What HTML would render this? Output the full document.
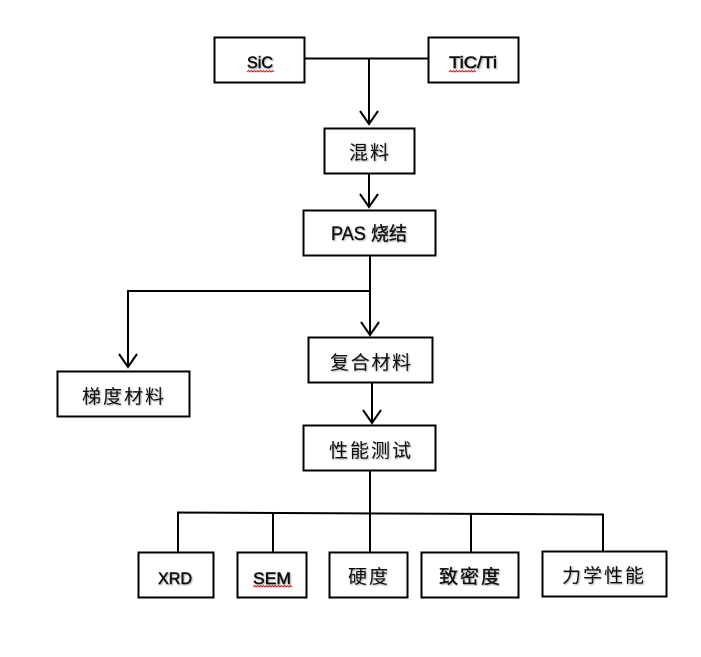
<!DOCTYPE html>
<html>
<head>
<meta charset="utf-8">
<style>
html,body{margin:0;padding:0;background:#fff;width:701px;height:657px;overflow:hidden}
svg{display:block}
text{fill:#111;filter:url(#soft)}
.c{font-family:"Liberation Sans","Noto Sans CJK SC",sans-serif;font-size:19px}
.l{font-family:"Liberation Sans","Noto Sans CJK SC",sans-serif;font-size:17px;stroke:#111;stroke-width:.5px}
</style>
</head>
<body>
<svg width="701" height="657" viewBox="0 0 701 657" xmlns="http://www.w3.org/2000/svg">
<defs>
<filter id="soft" x="-10%" y="-20%" width="125%" height="145%">
<feGaussianBlur in="SourceAlpha" stdDeviation="0.9" result="b"/>
<feOffset in="b" dx="1" dy="1" result="o"/>
<feComponentTransfer in="o" result="s"><feFuncA type="linear" slope="0.35"/></feComponentTransfer>
<feMerge><feMergeNode in="s"/><feMergeNode in="SourceGraphic"/></feMerge>
</filter>
</defs>
<g fill="#fff" stroke="#000" stroke-width="2">
<rect x="214.500" y="37.500" width="90" height="45"/>
<rect x="428.500" y="37.500" width="90" height="45"/>
<rect x="324.500" y="128.500" width="90" height="45"/>
<rect x="303.500" y="210.500" width="132" height="45"/>
<rect x="308.500" y="337.500" width="124" height="45"/>
<rect x="57.500" y="371.500" width="132" height="45"/>
<rect x="303.500" y="425.500" width="132" height="45"/>
<rect x="138.500" y="552.500" width="75" height="45"/>
<rect x="237.500" y="552.500" width="69" height="45"/>
<rect x="329.500" y="552.500" width="78" height="45"/>
<rect x="421.500" y="552.500" width="97" height="45"/>
<rect x="542.500" y="551.500" width="124" height="45"/>
</g>
<g fill="none" stroke="#000" stroke-width="2">
<path d="M305 58.500H428M369 59V124M360 111L369 124L378 111"/>
<path d="M369 174V207M360 194L369 207L378 194"/>
<path d="M370 256V335M361 322L370 335L379 322"/>
<path d="M370 291H128V367M119 354L128 367L137 354"/>
<path d="M372 383V423M363 410L372 423L381 410"/>
<path d="M370 471V552"/>
<path d="M178 552L178 512.500L603 514.500V551"/>
<path d="M273 513V552M471 514V552"/>
</g>
<g fill="none" stroke="#d22" stroke-width="1">
<path d="M247 72l1.500-1.500 1.500 1.500 1.500-1.500 1.500 1.500 1.500-1.500 1.500 1.500 1.500-1.500 1.500 1.500 1.500-1.500 1.500 1.500 1.500-1.500 1.500 1.500 1.500-1.500 1.500 1.500 1.500-1.500 1.500 1.500 1.500-1.500 1.500 1.500"/>
<path d="M449 72l1.500-1.500 1.500 1.500 1.500-1.500 1.500 1.500 1.500-1.500 1.500 1.500 1.500-1.500 1.500 1.500 1.500-1.500 1.500 1.500 1.500-1.500 1.500 1.500 1.500-1.500 1.500 1.500 1.500-1.500 1.500 1.500 1.500-1.500 1.500 1.500"/>
<path d="M253 587l1.500-1.500 1.500 1.500 1.500-1.500 1.500 1.500 1.500-1.500 1.500 1.500 1.500-1.500 1.500 1.500 1.500-1.500 1.500 1.500 1.500-1.500 1.500 1.500 1.500-1.500 1.500 1.500 1.500-1.500 1.500 1.500 1.500-1.500 1.500 1.500 1.500-1.500 1.500 1.500 1.500-1.500 1.500 1.500 1.500-1.500 1.500 1.500 1.500-1.500 1.500 1.500"/>
</g>
<text class="l" x="247" y="68" textLength="26" lengthAdjust="spacingAndGlyphs">SiC</text>
<text class="l" x="449" y="68" textLength="48" lengthAdjust="spacingAndGlyphs">TiC/Ti</text>
<text class="c" x="349" y="159" textLength="40">混料</text>
<text class="c" x="331" y="240" textLength="76" lengthAdjust="spacingAndGlyphs" style="stroke:#111;stroke-width:.3px">PAS 烧结</text>
<text class="c" x="330" y="369" textLength="81">复合材料</text>
<text class="c" x="82" y="403" textLength="82">梯度材料</text>
<text class="c" x="329" y="457" textLength="82">性能测试</text>
<text class="l" x="158" y="584" textLength="34" lengthAdjust="spacingAndGlyphs">XRD</text>
<text class="l" x="253" y="584" textLength="38" lengthAdjust="spacingAndGlyphs">SEM</text>
<text class="c" x="348" y="583" textLength="40">硬度</text>
<text class="c" x="439" y="583" textLength="61" style="stroke:#111;stroke-width:.3px">致密度</text>
<text class="c" x="562" y="582" textLength="82">力学性能</text>
</svg>
</body>
</html>
